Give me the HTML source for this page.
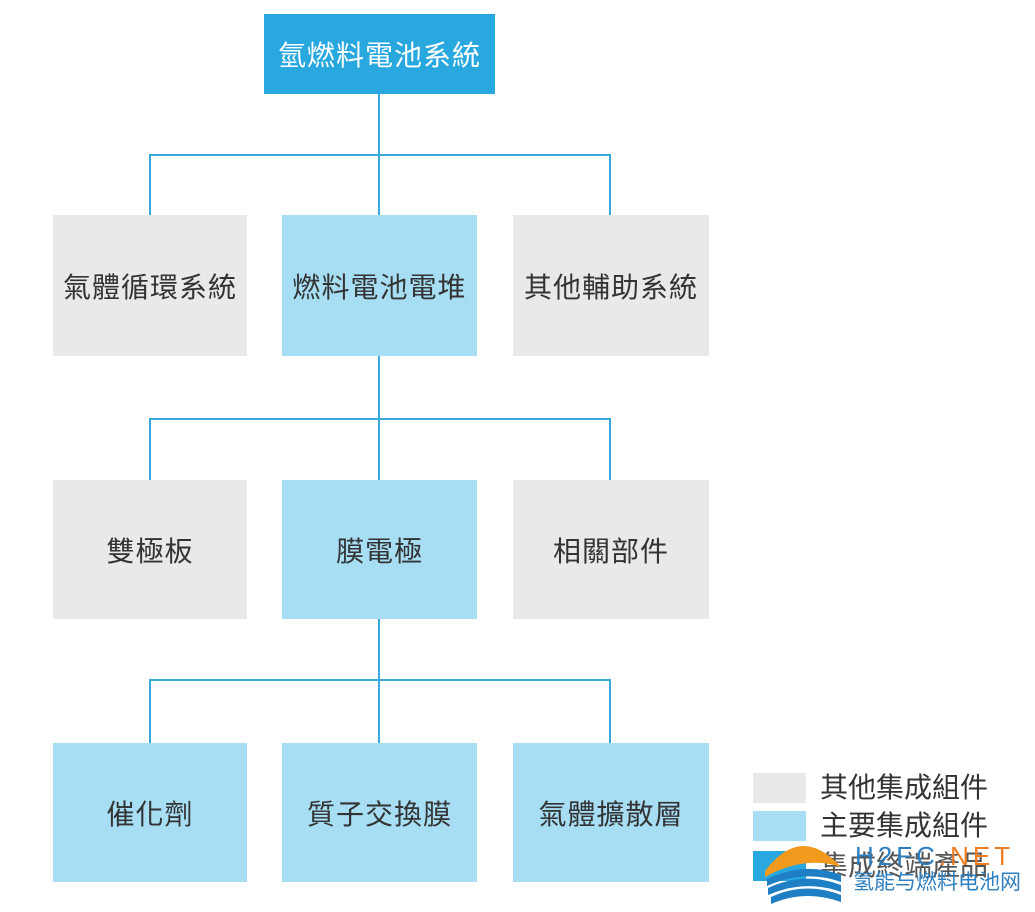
<!DOCTYPE html>
<html><head><meta charset="utf-8"><style>
body{margin:0;width:1035px;height:912px;background:#fff;position:relative;overflow:hidden;font-family:"Liberation Sans","Noto Sans CJK TC",sans-serif}
.b{position:absolute;display:flex;align-items:center;justify-content:center;font-size:28px;color:#333;letter-spacing:1px}
.g{background:#e8e9e9}.l{background:#a7def4}
.l1{position:absolute;background:#39a9dd}
.lg{position:absolute;left:753px;width:53px;height:30px}
.lt{position:absolute;left:820px;font-size:28px;color:#333;line-height:30px}
</style></head><body>
<div class="b" style="left:264px;top:14px;width:231px;height:80px;background:#29a8e0;color:#fff;font-size:28px">氫燃料電池系統</div>
<div class="l1" style="left:378px;top:94px;width:2px;height:121px"></div>
<div class="l1" style="left:149px;top:154px;width:462px;height:2px"></div>
<div class="l1" style="left:149px;top:154px;width:2px;height:61px"></div>
<div class="l1" style="left:609px;top:154px;width:2px;height:61px"></div>
<div class="b g" style="left:53px;top:215px;width:194px;height:141px">氣體循環系統</div>
<div class="b l" style="left:282px;top:215px;width:195px;height:141px">燃料電池電堆</div>
<div class="b g" style="left:513px;top:215px;width:196px;height:141px">其他輔助系統</div>
<div class="l1" style="left:378px;top:356px;width:2px;height:124px"></div>
<div class="l1" style="left:149px;top:418px;width:462px;height:2px"></div>
<div class="l1" style="left:149px;top:418px;width:2px;height:62px"></div>
<div class="l1" style="left:609px;top:418px;width:2px;height:62px"></div>
<div class="b g" style="left:53px;top:480px;width:194px;height:139px">雙極板</div>
<div class="b l" style="left:282px;top:480px;width:195px;height:139px">膜電極</div>
<div class="b g" style="left:513px;top:480px;width:196px;height:139px">相關部件</div>
<div class="l1" style="left:378px;top:619px;width:2px;height:124px"></div>
<div class="l1" style="left:149px;top:679px;width:462px;height:2px"></div>
<div class="l1" style="left:149px;top:679px;width:2px;height:64px"></div>
<div class="l1" style="left:609px;top:679px;width:2px;height:64px"></div>
<div class="b l" style="left:53px;top:743px;width:194px;height:139px">催化劑</div>
<div class="b l" style="left:282px;top:743px;width:195px;height:139px">質子交換膜</div>
<div class="b l" style="left:513px;top:743px;width:196px;height:139px">氣體擴散層</div>
<div class="lg" style="top:773px;background:#e8e9e9"></div>
<div class="lg" style="top:811px;background:#a7def4"></div>
<div class="lg" style="top:851px;background:#29a8e0"></div>
<div class="lt" style="top:773px">其他集成組件</div>
<div class="lt" style="top:811px">主要集成組件</div>
<div class="lt" style="top:851px;color:#555">集成終端產品</div>
<svg style="position:absolute;left:763px;top:835px" width="85" height="72">
<path d="M2 36 Q38 -12 78 32 Q42 20 2 42Z" fill="#f29a1e"/>
<path d="M4 44 Q42 26 78 40 L78 47 Q42 34 4 51Z" fill="#1f7fc4"/>
<path d="M5 53 Q42 36 78 50 L78 57 Q42 44 5 60Z" fill="#1f7fc4"/>
<path d="M8 62 Q42 46 78 60 L78 67 Q42 54 8 69Z" fill="#1f7fc4"/>
</svg>
<div style="position:absolute;left:855px;top:842px;font-size:26px;color:#2d7fc0;letter-spacing:4px;line-height:28px;white-space:nowrap">H2FC<span style="color:#ef7d22">.NET</span></div>
<div style="position:absolute;left:853px;top:869px;font-size:21px;color:#2d7fc0;line-height:28px;white-space:nowrap">氢能与燃料电池网</div>
</body></html>
